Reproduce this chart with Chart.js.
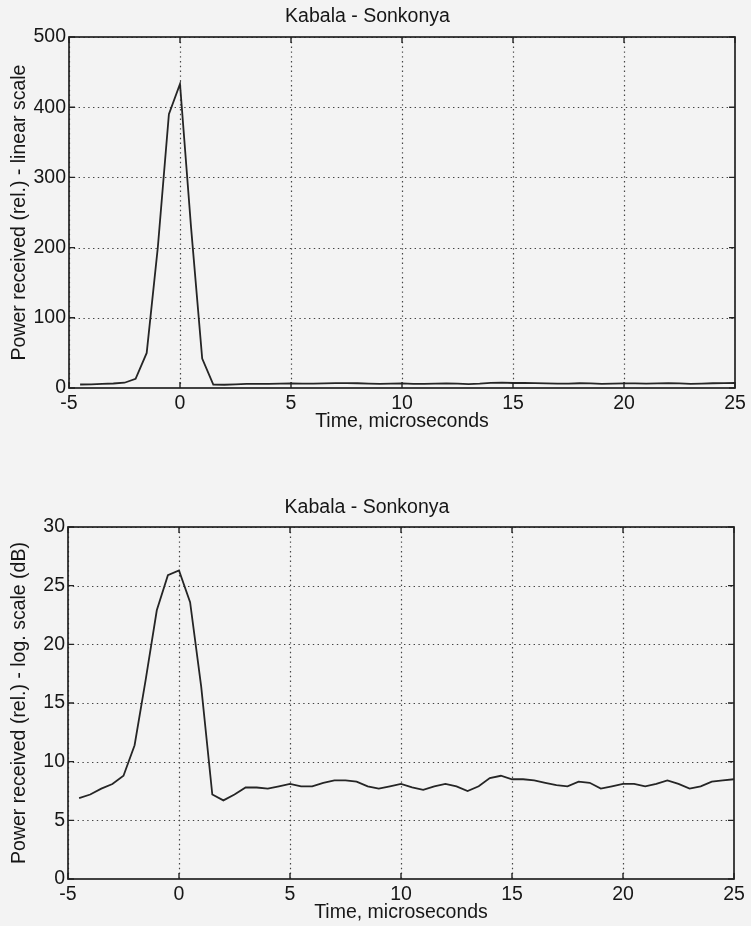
<!DOCTYPE html>
<html><head><meta charset="utf-8">
<script src="https://cdn.jsdelivr.net/npm/chart.js@4"></script>
<style>
html,body{margin:0;padding:0;background:#f3f3f3;}
#wrap{position:relative;width:751px;height:926px;overflow:hidden;}
canvas{position:absolute;left:0;}
</style></head><body>
<div id="wrap">
<canvas id="c1" width="751" height="463" style="top:0px"></canvas>
<canvas id="c2" width="751" height="463" style="top:463px"></canvas>
</div>
<script>
const chartTitle = 'Kabala - Sonkonya';
const xAxisTitle = 'Time, microseconds';
const yTitleLinear = 'Power received (rel.) - linear scale';
const yTitleDb = 'Power received (rel.) - log. scale (dB)';

const timeUs = [-4.5,-4,-3.5,-3,-2.5,-2,-1.5,-1,-0.5,0,0.5,1,1.5,2,2.5,3,3.5,4,4.5,5,
  5.5,6,6.5,7,7.5,8,8.5,9,9.5,10,10.5,11,11.5,12,12.5,13,13.5,14,14.5,15,
  15.5,16,16.5,17,17.5,18,18.5,19,19.5,20,20.5,21,21.5,22,22.5,23,23.5,24,24.5,25];

const powerLinear = [5,5.2,5.8,6.4,7.5,13,50,200,390,433,228,42,5,4.6,5.2,6,6,5.9,6.2,6.5,
  6.2,6.2,6.6,6.9,6.9,6.8,6.2,5.9,6.2,6.5,6,5.8,6.2,6.5,6.2,5.6,6.2,7.3,7.6,7.1,
  7.1,6.9,6.6,6.3,6.2,6.8,6.6,5.9,6.2,6.5,6.5,6.2,6.5,6.9,6.5,5.9,6.2,6.8,6.9,7.1];

const powerDb = [6.9,7.2,7.7,8.1,8.8,11.4,17.0,22.9,25.9,26.3,23.6,16.4,7.2,6.7,7.2,7.8,7.8,7.7,7.9,8.1,
  7.9,7.9,8.2,8.4,8.4,8.3,7.9,7.7,7.9,8.1,7.8,7.6,7.9,8.1,7.9,7.5,7.9,8.6,8.8,8.5,
  8.5,8.4,8.2,8.0,7.9,8.3,8.2,7.7,7.9,8.1,8.1,7.9,8.1,8.4,8.1,7.7,7.9,8.3,8.4,8.5];

const xTicks = [-5,0,5,10,15,20,25];
const linearTicks = [0,100,200,300,400,500];
const dbTicks = [0,5,10,15,20,25,30];

const FONT = "'Liberation Sans', Arial, Helvetica, sans-serif";
const FS = 19.5;
const TXT = '#161616';

const framePlugin = {
  id: 'frame',
  beforeDatasetsDraw(chart) {
    const {ctx, chartArea: a, scales: {x, y}} = chart;
    ctx.save();
    ctx.beginPath(); ctx.rect(a.left, a.top, a.right - a.left, a.bottom - a.top); ctx.clip();
    ctx.strokeStyle = '#444'; ctx.lineWidth = 1.2; ctx.setLineDash([1.4, 3.4]);
    x.ticks.forEach(t => {
      const px = Math.round(x.getPixelForValue(t.value)) + 0.5;
      ctx.beginPath(); ctx.moveTo(px, a.top); ctx.lineTo(px, a.bottom); ctx.stroke();
    });
    y.ticks.forEach(t => {
      const py = Math.round(y.getPixelForValue(t.value)) + 0.5;
      ctx.beginPath(); ctx.moveTo(a.left, py); ctx.lineTo(a.right, py); ctx.stroke();
    });
    ctx.restore();
  },
  afterDatasetsDraw(chart) {
    const {ctx, chartArea: a, scales: {x, y}} = chart;
    ctx.save();
    ctx.strokeStyle = '#222'; ctx.lineWidth = 1.7; ctx.setLineDash([]);
    ctx.strokeRect(a.left, a.top, a.right - a.left, a.bottom - a.top);
    const L = 6;
    ctx.lineWidth = 1.4;
    x.ticks.forEach(t => {
      const px = x.getPixelForValue(t.value);
      ctx.beginPath(); ctx.moveTo(px, a.bottom); ctx.lineTo(px, a.bottom - L);
      ctx.moveTo(px, a.top); ctx.lineTo(px, a.top + L); ctx.stroke();
    });
    y.ticks.forEach(t => {
      const py = y.getPixelForValue(t.value);
      ctx.beginPath(); ctx.moveTo(a.left, py); ctx.lineTo(a.left + L, py);
      ctx.moveTo(a.right, py); ctx.lineTo(a.right - L, py); ctx.stroke();
    });
    ctx.restore();
  }
};

function makeChart(id, values, yTicksArr, yTitle, cfg) {
  const pts = timeUs.map((t, i) => ({x: t, y: values[i]}));
  return new Chart(document.getElementById(id), {
    type: 'line',
    data: {datasets: [{data: pts, borderColor: '#252525', borderWidth: 1.8,
      pointRadius: 0, tension: 0, fill: false}]},
    options: {
      responsive: false, animation: false, devicePixelRatio: 1,
      layout: {padding: {left: 0, right: cfg.padRight, top: 0, bottom: cfg.padBottom}},
      plugins: {
        legend: {display: false}, tooltip: {enabled: false},
        title: {display: true, text: chartTitle, color: TXT,
          font: {family: FONT, size: FS, weight: 'normal', lineHeight: 1.2},
          padding: {top: cfg.titleTop, bottom: cfg.titleBottom}}
      },
      scales: {
        x: {
          type: 'linear', min: -5, max: 25,
          afterBuildTicks: s => { s.ticks = xTicks.map(v => ({value: v})); },
          afterFit: s => { s.height = cfg.xHeight; },
          grid: {display: false, drawTicks: false}, border: {display: false},
          ticks: {color: TXT, padding: 4, maxRotation: 0, autoSkip: false,
            font: {family: FONT, size: FS}},
          title: {display: true, text: xAxisTitle, color: TXT,
            font: {family: FONT, size: FS, lineHeight: 1.2}, padding: {top: 0, bottom: 0}}
        },
        y: {
          type: 'linear', min: yTicksArr[0], max: yTicksArr[yTicksArr.length - 1],
          afterBuildTicks: s => { s.ticks = yTicksArr.map(v => ({value: v})); },
          afterFit: s => { s.width = cfg.yWidth; },
          grid: {display: false, drawTicks: false}, border: {display: false},
          ticks: {color: TXT, padding: 3, autoSkip: false,
            font: {family: FONT, size: FS}},
          title: {display: true, text: yTitle, color: TXT,
            font: {family: FONT, size: FS, lineHeight: 1.2}, padding: {top: 8.3, bottom: 0}}
        }
      }
    },
    plugins: [framePlugin]
  });
}

makeChart('c1', powerLinear, linearTicks, yTitleLinear,
  {padRight: 16, padBottom: 29.3, titleTop: 5.3, titleBottom: 8.3, xHeight: 45.7, yWidth: 69});
makeChart('c2', powerDb, dbTicks, yTitleDb,
  {padRight: 17, padBottom: 1.3, titleTop: 33.3, titleBottom: 7.3, xHeight: 45.7, yWidth: 68});
</script>
</body></html>
